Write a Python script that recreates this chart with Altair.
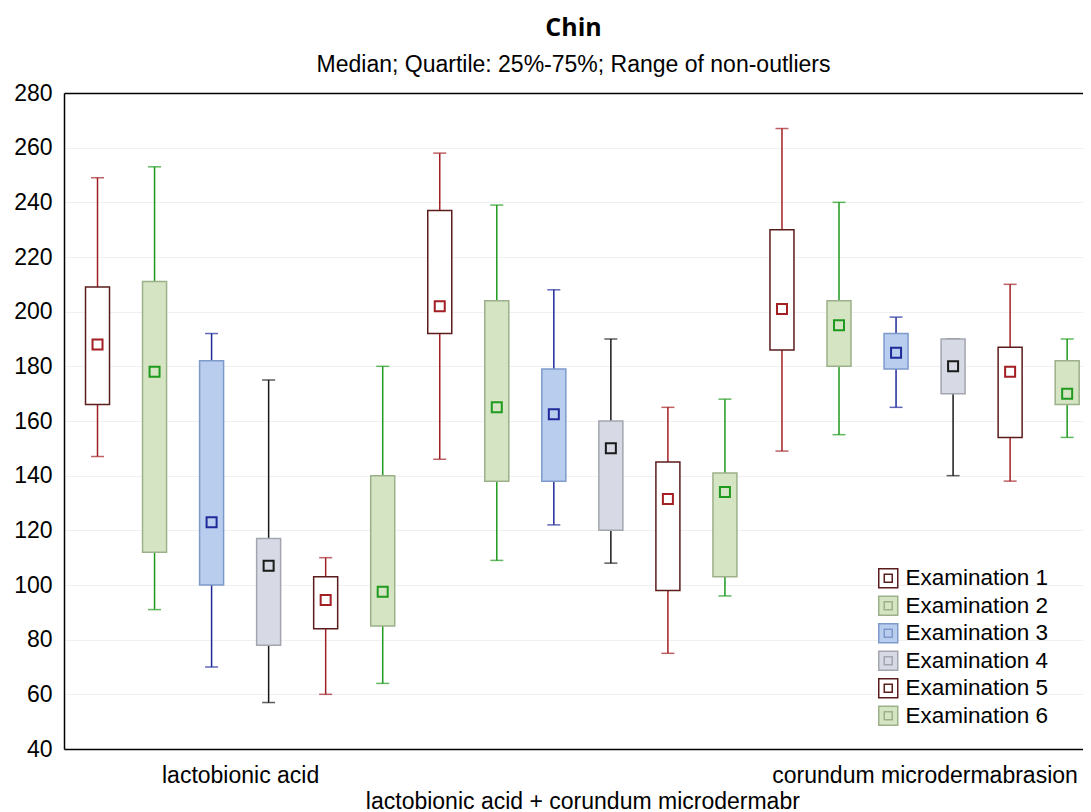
import altair as alt
import pandas as pd

groups = ["lactobionic acid", "lactobionic acid + corundum microdermabr", "corundum microdermabrasion"]
exams = ["Examination 1", "Examination 2", "Examination 3", "Examination 4", "Examination 5", "Examination 6"]

# values per group (group-major), exams 1..6
whisker_low = [147, 91, 70, 57, 60, 64,
               146, 109, 122, 108, 75, 96,
               149, 155, 165, 140, 138, 154]
quart_low = [166, 112, 100, 78, 84, 85,
             192, 138, 138, 120, 98, 103,
             186, 180, 179, 170, 154, 166]
median = [188, 178, 123, 107, 94.5, 97.5,
          202, 165, 162.5, 150, 131.5, 134,
          201, 195, 185, 180, 178, 170]
quart_high = [209, 211, 182, 117, 103, 140,
              237, 204, 179, 160, 145, 141,
              230, 204, 192, 190, 187, 182]
whisker_high = [249, 253, 192, 175, 110, 180,
                258, 239, 208, 190, 165, 168,
                267, 240, 198, 190, 210, 190]

y_ticks = [40, 60, 80, 100, 120, 140, 160, 180, 200, 220, 240, 260, 280]

box_fill = ["#ffffff", "#d5e5c3", "#b9cdee", "#d7dae5", "#ffffff", "#d5e5c3"]
box_stroke = ["#5b1c1c", "#9cb089", "#7e9acb", "#a3a6ae", "#5b1c1c", "#9cb089"]
whisker_col = ["#a31f24", "#1e9a1e", "#1f2a9a", "#1a1a1a", "#a31f24", "#1e9a1e"]

rows = []
for gi, g in enumerate(groups):
    for ei, e in enumerate(exams):
        k = gi * 6 + ei
        rows.append(dict(group=g, exam=e, examw=e, pos=k, low=whisker_low[k], q1=quart_low[k],
                         med=median[k], q3=quart_high[k], high=whisker_high[k]))
df = pd.DataFrame(rows)

FONT = "Liberation Sans"

xscale = alt.Scale(domain=[-0.5, 17.19], nice=False, zero=False)
yscale = alt.Scale(domain=[40, 280], nice=False, zero=False)

label_expr = ("datum.value == 2.5 ? '" + groups[0] + "' : datum.value == 8.5 ? ['', '" + groups[1]
              + "'] : '" + groups[2] + "'")

x_bottom = alt.X("pos:Q", scale=xscale, title=None,
                 axis=alt.Axis(orient="bottom", values=[2.5, 8.5, 14.5], labelExpr=label_expr,
                               ticks=False, grid=False, labelFlush=False, labelOverlap=False,
                               labelLimit=0, labelFontSize=23, labelFont=FONT, labelColor="black",
                               labelPadding=15, labelLineHeight=26, labelBaseline="top",
                               domainColor="black", domainWidth=1.5))
x_top = alt.X("pos:Q", scale=xscale, title=None,
              axis=alt.Axis(orient="top", labels=False, ticks=False, grid=False,
                            domainColor="black", domainWidth=1.5))
x_none = alt.X("pos:Q", scale=xscale, axis=None)
y_axis = alt.Axis(values=y_ticks, ticks=False, labelFontSize=23, labelFont=FONT,
                  labelColor="black", labelPadding=12, grid=True, gridColor="#f0f0f0",
                  domainColor="black", domainWidth=1.5)


def yv(f):
    return alt.Y(f, scale=yscale, title=None, axis=y_axis)


wcolor = alt.Color("examw:N", scale=alt.Scale(range=whisker_col), legend=None)

legend = alt.Legend(title=None, orient="none", legendX=813, legendY=474,
                    symbolType="M-1,-1H1V1H-1Z M-0.42,-0.42H0.42V0.42H-0.42Z",
                    symbolSize=361, symbolStrokeWidth=1.5, labelFontSize=22.5, labelFont=FONT,
                    labelColor="black", labelOffset=6, rowPadding=1.5, padding=0)

base = alt.Chart(df)

rules = base.mark_rule(strokeWidth=1.5).encode(x=x_top, y=yv("low:Q"), y2="high:Q", color=wcolor)
caps_low = base.mark_tick(orient="horizontal", size=13, thickness=1.5).encode(
    x=x_bottom, y=yv("low:Q"), color=wcolor)
caps_high = base.mark_tick(orient="horizontal", size=13, thickness=1.5).encode(
    x=x_none, y=yv("high:Q"), color=wcolor)
boxes = base.mark_bar(size=24, strokeWidth=1.5, orient="vertical").encode(
    x=x_none, y=yv("q1:Q"), y2="q3:Q",
    fill=alt.Fill("exam:N", scale=alt.Scale(domain=exams, range=box_fill), legend=legend),
    stroke=alt.Stroke("exam:N", scale=alt.Scale(domain=exams, range=box_stroke), legend=legend))
meds = base.mark_point(shape="square", filled=False, size=100, strokeWidth=2, opacity=1).encode(
    x=x_none, y=yv("med:Q"), color=wcolor)

chart = alt.layer(rules, caps_low, caps_high, boxes, meds).properties(
    width=1019, height=656,
    padding={"left": 5, "top": 8, "right": 0, "bottom": 0},
    title=alt.Title("Chin", subtitle="Median; Quartile: 25%-75%; Range of non-outliers",
                    fontSize=25, fontWeight="bold", font="Open Sans", color="black",
                    subtitleFontSize=23, subtitleFont=FONT, subtitleColor="black",
                    subtitlePadding=13, offset=5, anchor="middle"),
).configure_view(stroke=None).configure(background="white")

chart.save("out.html", embed_options={"renderer": "svg", "actions": False})
